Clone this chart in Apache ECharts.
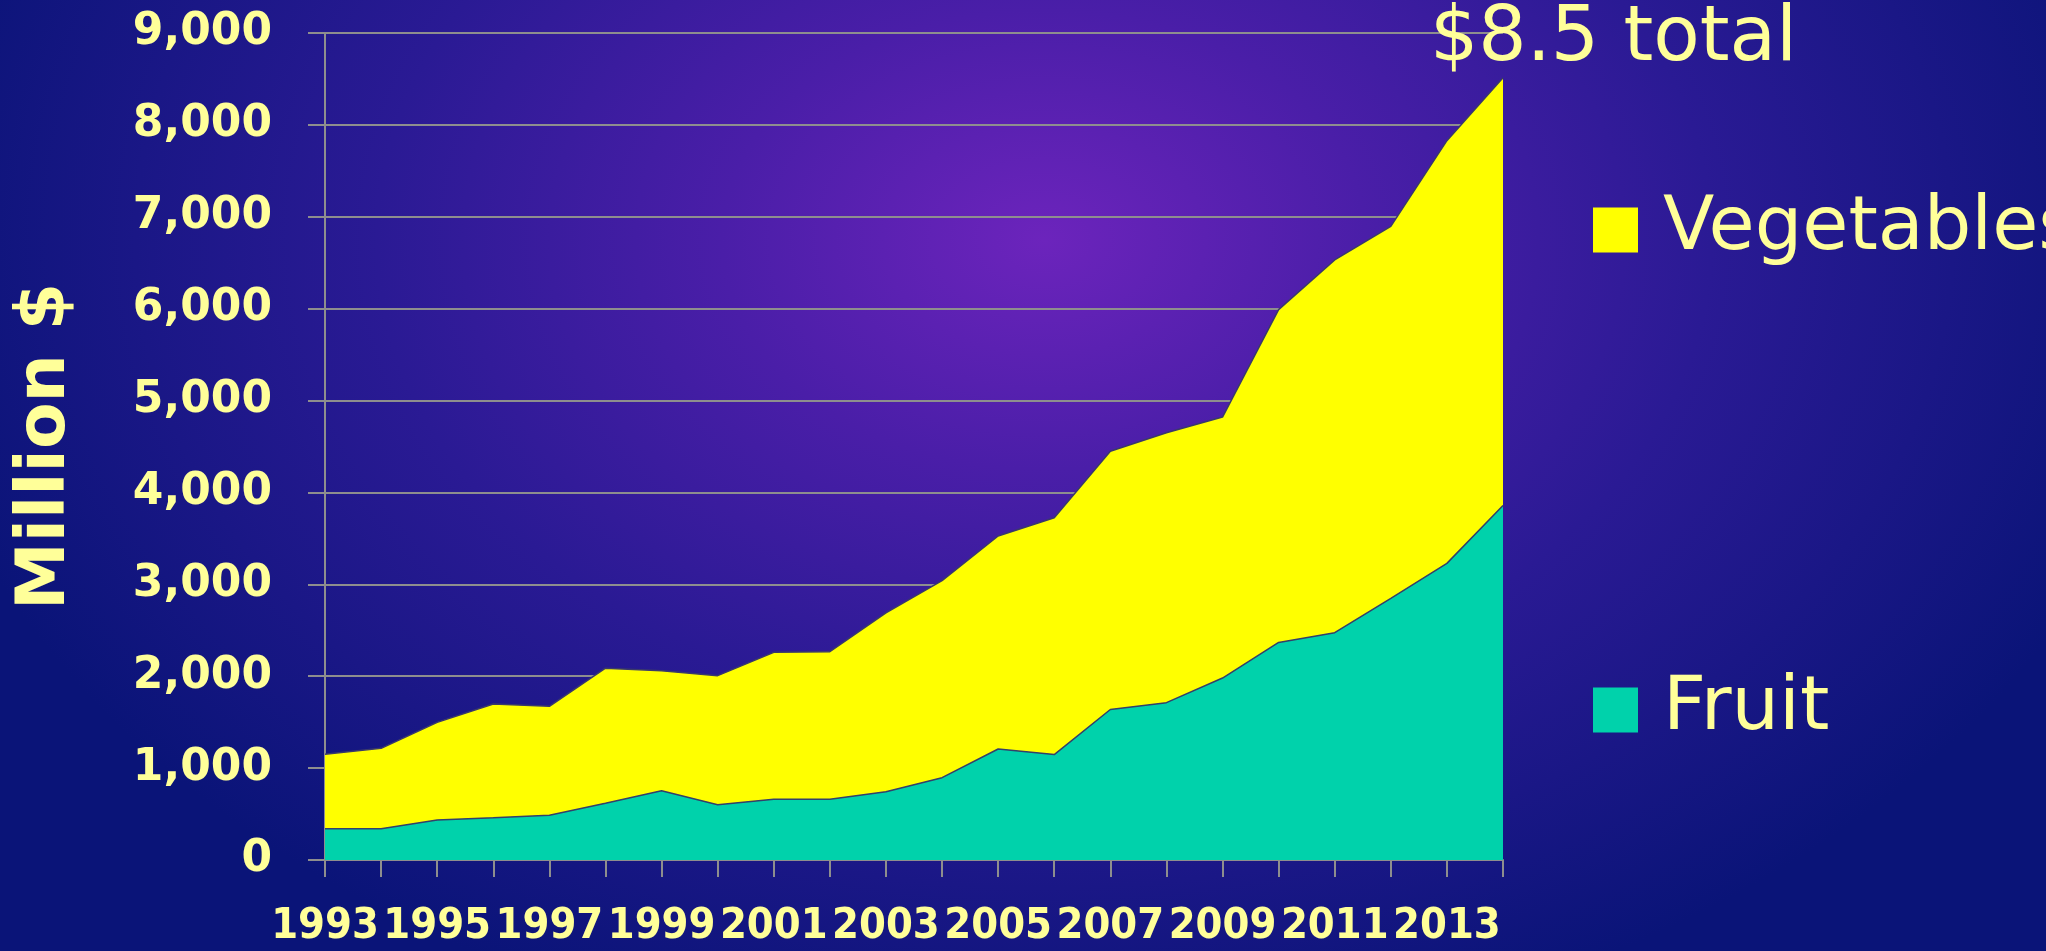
<!DOCTYPE html>
<html>
<head>
<meta charset="utf-8">
<script src="https://cdn.jsdelivr.net/npm/echarts@6/dist/echarts.min.js"></script>
<style>
  html, body { margin: 0; padding: 0; }
  #chart {
    width: 2046px;
    height: 951px;
    background: radial-gradient(1150px 820px at 1044px 240px, #6c24bc 0%, #4a1ea8 28%, #2a1a94 58%, #0a1478 100%);
  }
</style>
</head>
<body>
<div id="chart"></div>
<script>
// years on the x axis
const years = ['1993', '1994', '1995', '1996', '1997', '1998', '1999', '2000', '2001', '2002', '2003',
  '2004', '2005', '2006', '2007', '2008', '2009', '2010', '2011', '2012', '2013', '2014']
// million $ (stacked: fruit at the bottom, vegetables on top)
const fruit = [340, 340, 435, 460, 486, 617, 754, 602, 660, 660, 743,
  896, 1208, 1147, 1638, 1712, 1980, 2368, 2474, 2847, 3228, 3858]
const vegetables = [810, 875, 1063, 1237, 1186, 1471, 1306, 1404, 1600, 1607, 1947,
  2144, 2318, 2578, 2810, 2938, 2840, 3622, 4056, 4049, 4600, 4654]

const txt = '#ffff99'
const grey = '#8e8e8e'

const chart = echarts.init(document.getElementById('chart'))

const option = {
  backgroundColor: 'transparent',
  animation: false,
  title: {
    text: '$8.5 total',
    left: 1430,
    top: 2,
    padding: 0,
    textStyle: {
      color: txt,
      fontFamily: 'DejaVu Sans',
      fontWeight: 'normal',
      fontSize: 76,
      lineHeight: 76
    }
  },
  legend: {
    data: ['Vegetables', 'Fruit'],
    orient: 'vertical',
    left: 1588,
    top: 185,
    itemGap: 400,
    itemWidth: 45,
    itemHeight: 45,
    icon: 'rect',
    textStyle: {
      color: txt,
      fontFamily: 'DejaVu Sans',
      fontSize: 75,
      lineHeight: 80,
      padding: [0, 0, 0, 20]
    }
  },
  grid: {
    left: 325,
    right: 543,
    top: 33,
    bottom: 91
  },
  xAxis: {
    type: 'category',
    data: years,
    boundaryGap: false,
    axisLine: { lineStyle: { color: grey, width: 2 } },
    axisTick: { interval: 0, length: 17, lineStyle: { color: grey, width: 2 } },
    axisLabel: {
      interval: 1,
      margin: 45,
      color: txt,
      fontFamily: '"DejaVu Sans Condensed", "Liberation Sans Narrow", "Liberation Sans", sans-serif',
      fontWeight: 'bold',
      fontSize: 43
    },
    splitLine: { show: false }
  },
  yAxis: {
    type: 'value',
    min: 0,
    max: 9000,
    interval: 1000,
    name: 'Million $',
    nameLocation: 'middle',
    nameRotate: 90,
    nameGap: 245,
    nameTextStyle: {
      color: txt,
      fontFamily: 'DejaVu Sans',
      fontWeight: 'bold',
      fontSize: 68
    },
    axisLine: { show: true, lineStyle: { color: grey, width: 2 } },
    axisTick: { show: true, length: 17, lineStyle: { color: grey, width: 2 } },
    axisLabel: {
      margin: 53,
      color: txt,
      fontFamily: 'DejaVu Sans',
      fontWeight: 'bold',
      fontSize: 44,
      formatter: v => v.toLocaleString('en-US')
    },
    splitLine: { lineStyle: { color: grey, width: 2 } }
  },
  series: [
    {
      name: 'Fruit',
      type: 'line',
      stack: 'total',
      data: fruit,
      z: 3,
      showSymbol: false,
      color: '#00d2ab',
      lineStyle: { color: '#34406a', width: 1.5 },
      areaStyle: { color: '#00d2ab', opacity: 1 }
    },
    {
      name: 'Vegetables',
      type: 'line',
      stack: 'total',
      data: vegetables,
      z: 2,
      showSymbol: false,
      color: '#ffff00',
      lineStyle: { color: '#3a3a6a', width: 1.5 },
      areaStyle: { color: '#ffff00', opacity: 1 }
    }
  ]
}

chart.setOption(option)
</script>
</body>
</html>
